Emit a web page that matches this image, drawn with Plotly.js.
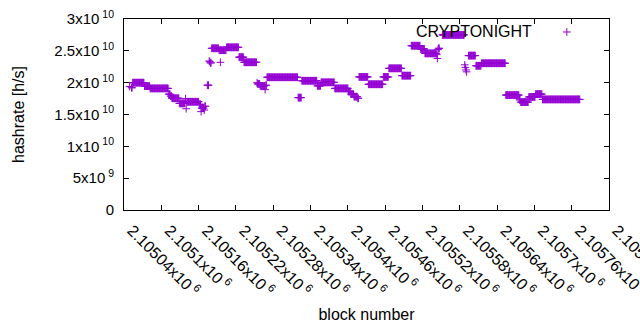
<!DOCTYPE html>
<html>
<head>
<meta charset="utf-8">
<script src="https://cdn.plot.ly/plotly-3.0.1.min.js"></script>
<style>html,body{margin:0;padding:0;background:#fff;}#chart{width:640px;height:330px;}</style>
</head>
<body>
<div id="chart"></div>
<script>
// Runs of consecutive blocks sharing one hashrate value
const runStart = [2105049,2105052,2105054,2105073,2105082,2105112,2105115,2105117,2105129,2105139,
  2105140,2105141,2105161,2105164,2105165,2105169,2105170,2105174,2105177,2105178,
  2105179,2105181,2105193,2105195,2105205,2105225,2105233,2105254,2105255,2105259,
  2105267,2105268,2105270,2105320,2105326,2105351,2105357,2105379,2105401,2105405,
  2105410,2105416,2105418,2105433,2105457,2105466,2105487,2105502,2105517,2105524,
  2105543,2105544,2105545,2105546,2105552,2105588,2105589,2105590,2105591,2105594,
  2105606,2105615,2105654,2105676,2105678,2105691,2105702,2105713];
const runEnd = [2105049,2105053,2105072,2105081,2105111,2105114,2105116,2105128,2105138,2105139,
  2105140,2105160,2105163,2105164,2105168,2105169,2105171,2105176,2105177,2105178,
  2105180,2105192,2105204,2105195,2105224,2105232,2105253,2105254,2105258,2105266,
  2105267,2105269,2105319,2105325,2105350,2105356,2105378,2105400,2105404,2105409,
  2105415,2105417,2105432,2105456,2105465,2105486,2105501,2105516,2105523,2105542,
  2105543,2105544,2105545,2105547,2105587,2105588,2105589,2105590,2105591,2105605,
  2105614,2105653,2105675,2105677,2105690,2105701,2105712,2105773];
const runValue = [1.94e10,1.92e10,2.00e10,1.945e10,1.91e10,1.82e10,1.79e10,1.755e10,1.675e10,1.75e10,
  1.59e10,1.70e10,1.66e10,1.545e10,1.60e10,1.57e10,1.63e10,1.96e10,2.34e10,2.33e10,
  2.31e10,2.54e10,2.51e10,2.32e10,2.555e10,2.40e10,2.32e10,2.00e10,1.98e10,1.95e10,
  1.89e10,1.96e10,2.085e10,1.765e10,2.03e10,1.95e10,2.005e10,1.91e10,1.86e10,1.82e10,
  1.78e10,1.755e10,2.09e10,1.975e10,2.09e10,2.225e10,2.11e10,2.58e10,2.53e10,2.46e10,
  2.44e10,2.38e10,2.52e10,2.54e10,2.75e10,2.28e10,2.24e10,2.20e10,2.17e10,2.425e10,
  2.265e10,2.305e10,1.805e10,1.73e10,1.695e10,1.775e10,1.82e10,1.737e10];

const seriesName = "CRYPTONIGHT";
const xTickVals = [2105040,2105100,2105160,2105220,2105280,2105340,2105400,2105460,2105520,2105580,2105640,2105700,2105760,2105820];
const xTickText = ["2.10504x10<sup> 6</sup>","2.1051x10<sup> 6</sup>","2.10516x10<sup> 6</sup>","2.10522x10<sup> 6</sup>",
  "2.10528x10<sup> 6</sup>","2.10534x10<sup> 6</sup>","2.1054x10<sup> 6</sup>","2.10546x10<sup> 6</sup>",
  "2.10552x10<sup> 6</sup>","2.10558x10<sup> 6</sup>","2.10564x10<sup> 6</sup>","2.1057x10<sup> 6</sup>",
  "2.10576x10<sup> 6</sup>","2.10582x10<sup> 6</sup>"];
const yTickVals = [0,5e9,1e10,1.5e10,2e10,2.5e10,3e10];
const yTickText = ["0","5x10<sup> 9</sup>","1x10<sup> 10</sup>","1.5x10<sup> 10</sup>","2x10<sup> 10</sup>","2.5x10<sup> 10</sup>","3x10<sup> 10</sup>"];

const xs = [], ys = [];
for (let i = 0; i < runStart.length; i++) {
  for (let b = runStart[i]; b <= runEnd[i]; b++) { xs.push(b); ys.push(runValue[i]); }
}

const color = "#9400D3";
const font = {family: "Liberation Sans, Arial, sans-serif", color: "#000"};

const trace = {
  x: xs, y: ys, type: "scatter", mode: "markers", name: seriesName,
  marker: {symbol: "cross-thin", size: 5.5, color: color, line: {color: color, width: 1}},
  showlegend: false, hoverinfo: "none"
};

const axisCommon = {
  showline: true, linecolor: "#000", linewidth: 1, mirror: "ticks",
  ticks: "inside", ticklen: 5, tickcolor: "#000", tickwidth: 1,
  showgrid: false, zeroline: false
};

const layout = {
  width: 640, height: 330,
  margin: {l: 124, r: 31, t: 19, b: 120},
  paper_bgcolor: "#fff", plot_bgcolor: "#fff",
  font: font,
  xaxis: Object.assign({}, axisCommon, {
    range: [2105040, 2105820], tickmode: "array", tickvals: xTickVals, ticktext: xTickText,
    tickangle: 45, automargin: false, ticklabeloverflow: "allow", ticklabelstandoff: 4, ticklabelshift: 8,
    tickfont: Object.assign({size: 16}, font),
    title: {text: "block number", font: Object.assign({size: 16}, font), standoff: 10}
  }),
  yaxis: Object.assign({}, axisCommon, {
    range: [0, 3e10], tickmode: "array", tickvals: yTickVals, ticktext: yTickText,
    ticklabelstandoff: 6, automargin: false, tickfont: Object.assign({size: 15}, font),
    title: {text: "hashrate [h/s]", font: Object.assign({size: 16}, font), standoff: 25}
  }),
  annotations: [{
    xref: "paper", yref: "paper", x: 0.846, y: 0.932, xanchor: "right", yanchor: "middle",
    text: seriesName, showarrow: false, font: Object.assign({size: 16}, font)
  }],
  shapes: [{
    type: "path", xref: "paper", yref: "paper", xsizemode: "pixel", ysizemode: "pixel",
    xanchor: 0.913, yanchor: 0.932, path: "M-4,0H4M0,-4V4",
    line: {color: color, width: 1}
  }]
};

Plotly.newPlot("chart", [trace], layout, {displayModeBar: false, staticPlot: true});
</script>
</body>
</html>
